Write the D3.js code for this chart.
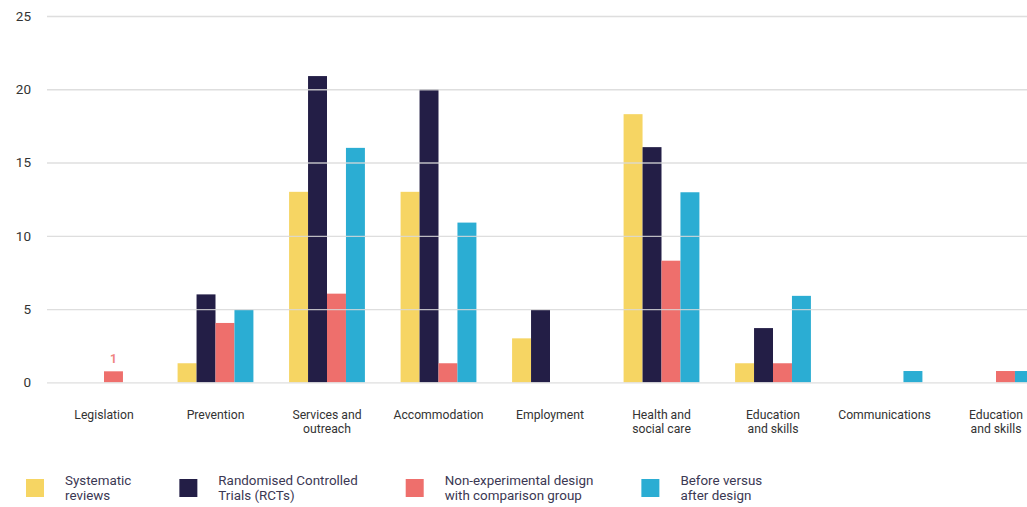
<!DOCTYPE html>
<html><head><meta charset="utf-8">
<script src="https://cdn.jsdelivr.net/npm/d3@7"></script>
<style>body{margin:0;background:#fff;} svg{display:block;font-family:Roboto, "Open Sans", sans-serif;}</style>
</head><body>
<svg id="chart" width="1027" height="507"></svg>
<script>
const categories = ["Legislation", "Prevention", "Services and\noutreach", "Accommodation", "Employment", "Health and\nsocial care", "Education\nand skills", "Communications", "Education\nand skills"];
const seriesNames = ["Systematic\nreviews", "Randomised Controlled\nTrials (RCTs)", "Non-experimental design\nwith comparison group", "Before versus\nafter design"];
const seriesColors = ["#F6D563", "#231E46", "#EE6F6C", "#2BADD3"];
const systematic = [0, 1.3, 13, 13, 3, 18.3, 1.3, 0, 0];
const rcts = [0, 6, 20.9, 20, 4.95, 16.05, 3.7, 0, 0];
const nonExperimental = [0.75, 4.05, 6.05, 1.3, 0, 8.3, 1.3, 0, 0.77];
const beforeAfter = [0, 4.95, 16, 10.9, 0, 12.97, 5.9, 0.77, 0.77];
const yTicks = [0, 5, 10, 15, 20, 25];
const annotations = [{cat: 0, series: 2, text: "1"}];

const seriesValues = [systematic, rcts, nonExperimental, beforeAfter];
const svg = d3.select("#chart");

const y = d3.scaleLinear().domain([0, 25]).range([382.3, 16]);
const x = d3.scaleBand().domain(d3.range(categories.length)).range([48.25, 1051.75]).paddingInner(0.32).paddingOuter(0.16);
const xs = d3.scaleBand().domain(d3.range(seriesNames.length)).range([0, x.bandwidth()]);

// bars
const data = [];
categories.forEach((c, ci) => seriesValues.forEach((vals, si) => { if (vals[ci] > 0) data.push({ci, si, v: vals[ci]}); }));
svg.append("g").selectAll("rect").data(data).join("rect")
  .attr("x", d => x(d.ci) + xs(d.si))
  .attr("y", d => y(d.v))
  .attr("width", xs.bandwidth())
  .attr("height", d => y(0) - y(d.v))
  .attr("fill", d => seriesColors[d.si]);

// gridlines on top
const gy = svg.append("g").attr("transform", "translate(47,0)")
  .call(d3.axisLeft(y).tickValues(yTicks).tickSize(-1000).tickFormat(""));
gy.select(".domain").remove();
gy.selectAll(".tick line").attr("stroke", "#d8d8d8").attr("stroke-width", 1.3).attr("stroke-opacity", 0.85);

// y labels
svg.append("g").selectAll("text").data(yTicks).join("text")
  .attr("x", 31).attr("y", d => y(d)).attr("dy", "0.36em")
  .attr("text-anchor", "end").attr("font-size", 13.5).attr("fill", "#333")
  .text(d => d);

// x labels
const xl = svg.append("g").selectAll("text").data(categories).join("text")
  .attr("text-anchor", "middle").attr("font-size", 12.2).attr("fill", "#333")
  .attr("transform", (d, i) => `translate(${x(i) + x.bandwidth() / 2},418.5)`);
xl.selectAll("tspan").data(d => d.split("\n")).join("tspan")
  .attr("x", 0).attr("dy", (d, i) => i ? 14.5 : 0).text(d => d);

// annotations
svg.append("g").selectAll("text").data(annotations).join("text")
  .attr("x", d => x(d.cat) + xs(d.series) + xs.bandwidth() / 2)
  .attr("y", d => y(seriesValues[d.series][d.cat]) - 8)
  .attr("text-anchor", "middle").attr("font-size", 12).attr("font-weight", "bold")
  .attr("fill", "#F08480").text(d => d.text);

// legend
const lg = svg.append("g");
let lx = 26;
seriesNames.forEach((name, i) => {
  lg.append("rect").attr("x", lx).attr("y", 479).attr("width", 18).attr("height", 18).attr("fill", seriesColors[i]);
  const t = lg.append("text").attr("font-size", 13.4).attr("fill", "#3b3853")
    .attr("transform", `translate(${lx + 39},484.5)`);
  t.selectAll("tspan").data(name.split("\n")).join("tspan")
    .attr("x", 0).attr("dy", (d, j) => j ? 15.5 : 0).text(d => d);
  const w = d3.max(t.selectAll("tspan").nodes(), n => n.getComputedTextLength());
  lx += 39 + w + 48;
});
</script>
</body></html>
